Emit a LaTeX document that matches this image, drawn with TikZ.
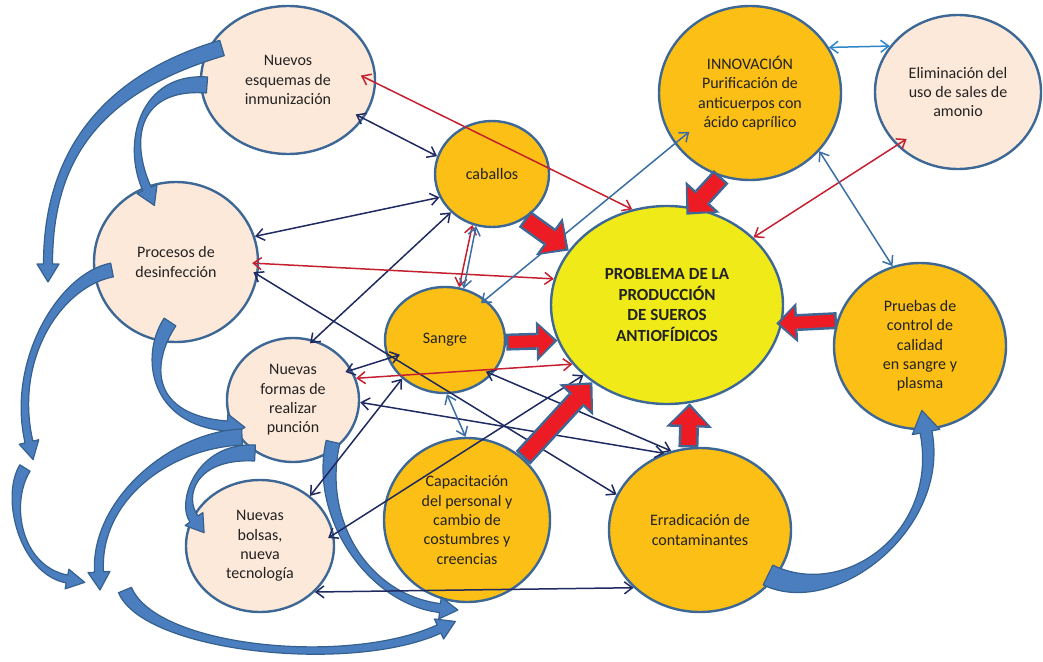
\documentclass[tikz,border=0pt]{standalone}
\usepackage{fontspec}
\setmainfont{Carlito}
\usetikzlibrary{shapes.geometric,arrows.meta,calc}

\definecolor{peach}{HTML}{FDE9D9}
\definecolor{gold}{HTML}{FBBF15}
\definecolor{yel}{HTML}{F0EA18}
\definecolor{bord}{HTML}{3D6896}
\definecolor{navy}{HTML}{1F2A60}
\definecolor{rline}{HTML}{C42030}
\definecolor{bline}{HTML}{3A6EA5}
\definecolor{lbline}{HTML}{2E86C8}
\definecolor{bigred}{HTML}{ED1C24}
\definecolor{cfill}{HTML}{4A7EBF}
\definecolor{cbord}{HTML}{36618F}
\definecolor{txt}{HTML}{222222}

\tikzset{
  bub/.style={ellipse, draw=bord, line width=2.4pt, inner sep=0pt, align=center,
    text=txt, font=\fontsize{16}{19.3}\selectfont},
  peachb/.style={bub, fill=peach},
  goldb/.style={bub, fill=gold},
  link/.style={line width=1.5pt,
    {Straight Barb[length=8pt,width=12pt]}-{Straight Barb[length=8pt,width=12pt]}},
  nlink/.style={link, draw=navy},
  rlink/.style={link, draw=rline},
  blink/.style={link, draw=bline},
  lblink/.style={link, draw=lbline},
  bigout/.style={line width=20pt, draw=bord, -{Triangle[length=24pt,width=46pt,line width=0pt]}},
  bigin/.style={line width=15pt, draw=bigred, shorten >=3.6pt, shorten <=2.5pt,
    -{Triangle[length=18pt,width=37pt,line width=0pt]}},
  smallout/.style={line width=17pt, draw=bord, -{Triangle[length=21pt,width=40pt,line width=0pt]}},
  smallin/.style={line width=12pt, draw=bigred, shorten >=3.6pt, shorten <=2.5pt,
    -{Triangle[length=15pt,width=31pt,line width=0pt]}},
  curv/.style={fill=cfill, draw=cbord, line width=1.2pt, line join=round},
}

\newcommand{\curvarr}[8]{%
  \coordinate (q0) at #1; \coordinate (q1) at #2; \coordinate (q2) at #3; \coordinate (q3) at #4;
  \filldraw[curv] ($(q0)!#5!90:(q1)$) .. controls ($(q1)!#5!-90:(q0)$) and ($(q2)!#6!90:(q3)$) ..
    ($(q3)!#6!-90:(q2)$) -- ($(q3)!#7!-90:(q2)$) -- ($(q3)!-#8!(q2)$) -- ($(q3)!#7!90:(q2)$) --
    ($(q3)!#6!90:(q2)$) .. controls ($(q2)!#6!-90:(q3)$) and ($(q1)!#5!90:(q0)$) ..
    ($(q0)!#5!-90:(q1)$) -- cycle;}

\begin{document}
\begin{tikzpicture}[x=1pt,y=-1pt]
\useasboundingbox (0,0) rectangle (1043,661);

% nodes
\node[peachb, minimum width=174pt, minimum height=148pt] (n1) at (288,80) {Nuevos\\esquemas de\\inmunización};
\node[goldb, minimum width=114pt, minimum height=106pt] (cab) at (492,174) {caballos};
\node[peachb, minimum width=164pt, minimum height=160pt] (proc) at (176,262) {Procesos de\\desinfección};
\node[goldb, minimum width=182pt, minimum height=174pt] (innov) at (750,93) {INNOVACIÓN\\Purificación de\\anticuerpos con\\ácido caprílico};
\node[peachb, minimum width=166pt, minimum height=154pt] (elim) at (958,92) {Eliminación del\\uso de sales de\\amonio};
\node[bub, fill=yel, minimum width=232pt, minimum height=198pt,
  font=\bfseries\fontsize{17}{20.7}\selectfont] (prob) at (667,305) {PROBLEMA DE LA\\PRODUCCIÓN\\DE SUEROS\\ANTIOFÍDICOS};
\node[goldb, minimum width=172pt, minimum height=166pt] (prue) at (920,346) {Pruebas de\\control de\\calidad\\en sangre y\\plasma};
\node[goldb, minimum width=120pt, minimum height=106pt] (sang) at (445,340) {Sangre};
\node[peachb, minimum width=132pt, minimum height=124pt] (forma) at (293,400) {Nuevas\\formas de\\realizar\\punción};
\node[peachb, minimum width=148pt, minimum height=132pt] (bols) at (260,546) {Nuevas\\bolsas,\\nueva\\tecnología};
\node[goldb, minimum width=166pt, minimum height=164pt] (capa) at (467,520) {Capacitación\\del personal y\\cambio de\\costumbres y\\creencias};
\node[goldb, minimum width=182pt, minimum height=164pt] (erra) at (700,530) {Erradicación de\\contaminantes};

% curved block arrows
\curvarr{(222,48)}{(97,85)}{(48,160)}{(48,264)}{8pt}{4.5pt}{11pt}{18pt}
\curvarr{(207,85)}{(140,80)}{(125,140)}{(147,189)}{8pt}{4.5pt}{11pt}{18pt}
\curvarr{(112,270)}{(60,280)}{(10,360)}{(29,442)}{7pt}{4pt}{10pt}{18pt}
\curvarr{(25,468)}{(5,500)}{(20,570)}{(67,579)}{6pt}{4pt}{10pt}{18pt}
\curvarr{(170,322)}{(145,360)}{(150,420)}{(227,426)}{7pt}{5pt}{12pt}{18pt}
\curvarr{(242,437)}{(170,440)}{(95,500)}{(99,572)}{8pt}{4.5pt}{11pt}{18pt}
\curvarr{(255,453)}{(195,450)}{(180,500)}{(194,519)}{8pt}{5pt}{11pt}{17pt}
\curvarr{(333,442)}{(315,520)}{(370,600)}{(440,608)}{7pt}{4.5pt}{11pt}{18pt}
\curvarr{(125,590)}{(150,650)}{(350,670)}{(439,629)}{7pt}{4.5pt}{11pt}{18pt}
\curvarr{(768,575)}{(840,610)}{(945,530)}{(926,432)}{11pt}{6pt}{14pt}{22pt}

% thin navy links
\draw[nlink, shorten <=-9pt] (n1.-27.5) -- (cab.162);
\draw[nlink] (proc.18) -- (cab.204);
\draw[nlink, shorten <=-5.5pt] (proc.-9.7) -- (erra.157.6);
\draw[nlink, shorten <=-5pt] (forma.71) -- (cab.223);
\draw[nlink, shorten <=-7pt, shorten >=-13pt] (forma.27) -- (sang.198);
\draw[nlink] (forma.-2) -- (erra.115.7);
\draw[nlink, shorten <=-7pt] (sang.-36.5) -- (erra.110);
\draw[nlink] (bols.45) -- (sang.222);
\draw[nlink, shorten <=-7pt] (bols.9.7) -- (prob.220.7);
\draw[nlink] (bols.-40.5) -- (erra.221);
% thin red links
\draw[rlink] (forma.19.5) -- (prob.212);
\draw[rlink, shorten <=-17pt] (n1.-2) -- (prob.110);
\draw[rlink, shorten <=-7pt] (proc.-1) -- (prob.167);
\draw[rlink, shorten <=-12pt] (elim.221) -- (prob.38.9);
\draw[rlink] (cab.249) -- (sang.75);
% thin blue links
\draw[blink] (cab.253) -- (sang.70);
\draw[blink] (sang.-88) -- (capa.91);
\draw[blink, shorten <=-6pt, shorten >=-19pt] (sang.45.8) -- (innov.214.3);
\draw[blink] (innov.-40.4) -- (prue.109.7);
\draw[lblink] (innov.30.5) -- (elim.146.5);

% big red block arrows
\coordinate (ipt) at ($(prob.75)!-10pt!(innov.251)$);
\coordinate (ppt) at ($(prob.-9)!-6pt!(prue.163.4)$);
\draw[bigout] (cab.-54) -- (prob.151);
\draw[bigin] (cab.-54) -- (prob.151);
\draw[bigout] (innov.251) -- (ipt);
\draw[bigin] (innov.251) -- (ipt);
\draw[smallout] (sang.-2) -- (prob.198);
\draw[smallin] (sang.-2) -- (prob.198);
\draw[bigout] (capa.48.5) -- (prob.226.9);
\draw[bigin] (capa.48.5) -- (prob.226.9);
\draw[bigout] (erra.98.2) -- (prob.-77.5);
\draw[bigin] (erra.98.2) -- (prob.-77.5);
\draw[smallout] (prue.163.4) -- (ppt);
\draw[smallin] (prue.163.4) -- (ppt);
\end{tikzpicture}
\end{document}
